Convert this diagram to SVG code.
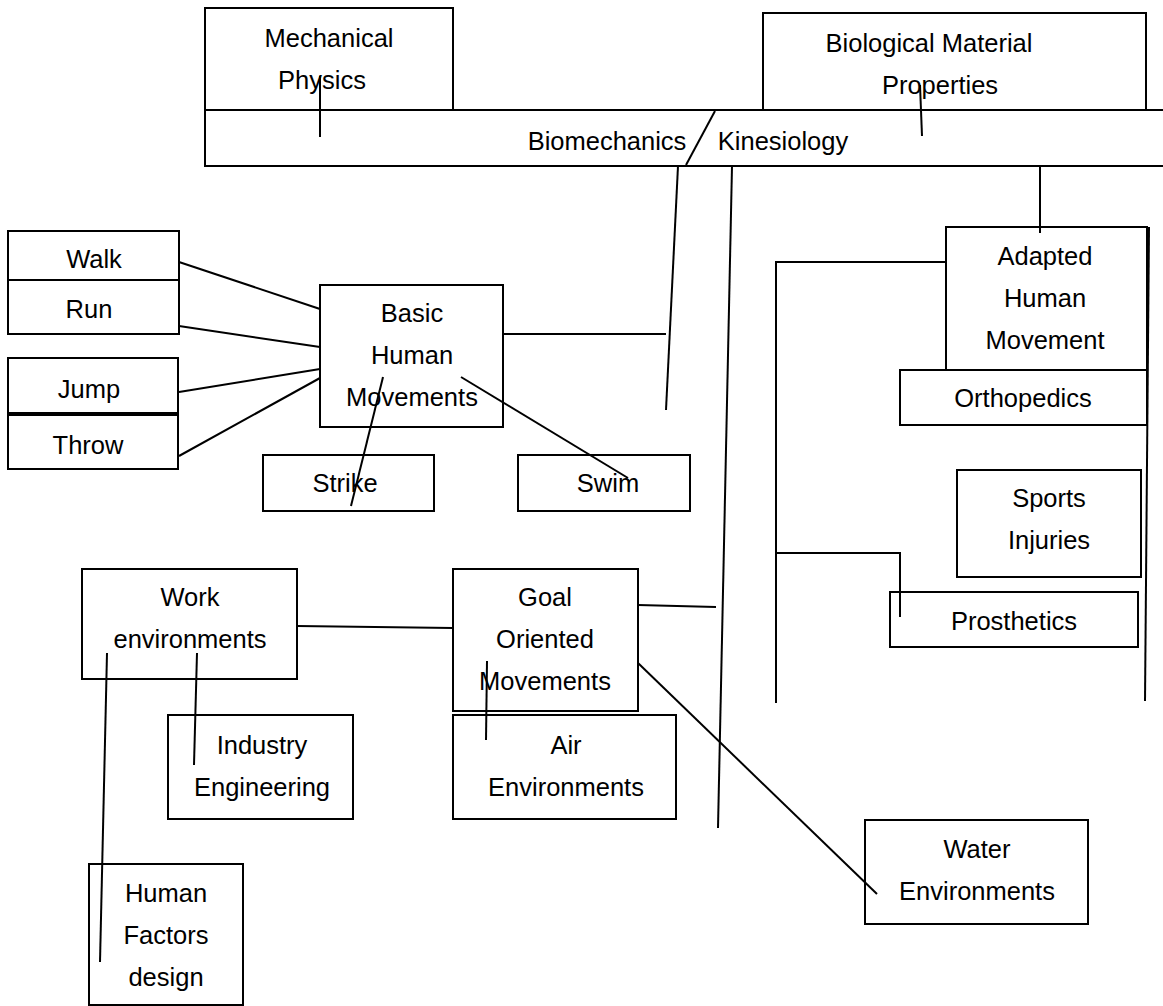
<svg xmlns="http://www.w3.org/2000/svg" width="1163" height="1006" viewBox="0 0 1163 1006">
<style>
.b{fill:#fff;stroke:#000;stroke-width:2}
.t{font-family:"Liberation Sans",Arial,sans-serif;font-size:25.5px;fill:#000;text-anchor:middle}
.c line,.c polyline{stroke:#000;stroke-width:2;fill:none}
</style>
<rect width="1163" height="1006" fill="#fff"/>
<g id="mechanical"><rect class="b" x="205" y="8" width="248" height="102"/><text class="t" x="329" y="47">Mechanical</text><text class="t" x="322" y="89">Physics</text></g>
<g id="biological"><rect class="b" x="763" y="13" width="383" height="97"/><text class="t" x="929" y="52">Biological Material</text><text class="t" x="940" y="94">Properties</text></g>
<g id="biomechanics"><polyline class="b" points="1163,110 205,110 205,166 1163,166" fill="#fff"/><text class="t" x="607" y="150">Biomechanics</text><text class="t" x="783" y="150">Kinesiology</text></g>
<g id="walk"><rect class="b" x="8" y="231" width="171" height="49"/><text class="t" x="94" y="268">Walk</text></g>
<g id="run"><rect class="b" x="8" y="280" width="171" height="54"/><text class="t" x="89" y="318">Run</text></g>
<g id="jump"><rect class="b" x="8" y="358" width="170" height="55"/><text class="t" x="89" y="398">Jump</text></g>
<g id="throw"><rect class="b" x="8" y="415" width="170" height="54"/><text class="t" x="88" y="454">Throw</text></g>
<g id="basic"><rect class="b" x="320" y="285" width="183" height="142"/><text class="t" x="412" y="322">Basic</text><text class="t" x="412" y="364">Human</text><text class="t" x="412" y="406">Movements</text></g>
<g id="strike"><rect class="b" x="263" y="455" width="171" height="56"/><text class="t" x="345" y="492">Strike</text></g>
<g id="swim"><rect class="b" x="518" y="455" width="172" height="56"/><text class="t" x="608" y="492">Swim</text></g>
<g id="adapted"><rect class="b" x="946" y="227" width="201" height="143"/><text class="t" x="1045" y="265">Adapted</text><text class="t" x="1045" y="307">Human</text><text class="t" x="1045" y="349">Movement</text></g>
<g id="orthopedics"><rect class="b" x="900" y="370" width="247" height="55"/><text class="t" x="1023" y="407">Orthopedics</text></g>
<g id="sports"><rect class="b" x="957" y="470" width="184" height="107"/><text class="t" x="1049" y="507">Sports</text><text class="t" x="1049" y="549">Injuries</text></g>
<g id="prosthetics"><rect class="b" x="890" y="592" width="248" height="55"/><text class="t" x="1014" y="630">Prosthetics</text></g>
<g id="work"><rect class="b" x="82" y="569" width="215" height="110"/><text class="t" x="190" y="606">Work</text><text class="t" x="190" y="648">environments</text></g>
<g id="goal"><rect class="b" x="453" y="569" width="185" height="142"/><text class="t" x="545" y="606">Goal</text><text class="t" x="545" y="648">Oriented</text><text class="t" x="545" y="690">Movements</text></g>
<g id="air"><rect class="b" x="453" y="715" width="223" height="104"/><text class="t" x="566" y="754">Air</text><text class="t" x="566" y="796">Environments</text></g>
<g id="industry"><rect class="b" x="168" y="715" width="185" height="104"/><text class="t" x="262" y="754">Industry</text><text class="t" x="262" y="796">Engineering</text></g>
<g id="water"><rect class="b" x="865" y="820" width="223" height="104"/><text class="t" x="977" y="858">Water</text><text class="t" x="977" y="900">Environments</text></g>
<g id="humanfactors"><rect class="b" x="89" y="864" width="154" height="141"/><text class="t" x="166" y="902">Human</text><text class="t" x="166" y="944">Factors</text><text class="t" x="166" y="986">design</text></g>
<g class="c" id="connectors">
<line x1="715" y1="111" x2="686" y2="165"/>
<line x1="320" y1="76" x2="320" y2="137"/>
<line x1="920" y1="85" x2="922" y2="136"/>
<line x1="678" y1="166" x2="666" y2="410"/>
<line x1="732" y1="166" x2="718" y2="828"/>
<line x1="1040" y1="166" x2="1040" y2="233"/>
<line x1="1149" y1="227" x2="1145" y2="701"/>
<polyline points="946,262 776,262 776,703"/>
<polyline points="776,553 900,553 900,617"/>
<line x1="179" y1="262" x2="320" y2="309"/>
<line x1="179" y1="326" x2="320" y2="347"/>
<line x1="179" y1="392" x2="320" y2="369"/>
<line x1="179" y1="456" x2="320" y2="378"/>
<line x1="503" y1="334" x2="666" y2="334"/>
<line x1="383" y1="377" x2="351" y2="506"/>
<line x1="461" y1="377" x2="628" y2="478"/>
<line x1="297" y1="626" x2="453" y2="628"/>
<line x1="638" y1="605" x2="716" y2="607"/>
<line x1="487" y1="661" x2="486" y2="740"/>
<line x1="638" y1="663" x2="877" y2="894"/>
<line x1="197" y1="653" x2="194" y2="765"/>
<line x1="107" y1="653" x2="100" y2="962"/>
</g>
</svg>
